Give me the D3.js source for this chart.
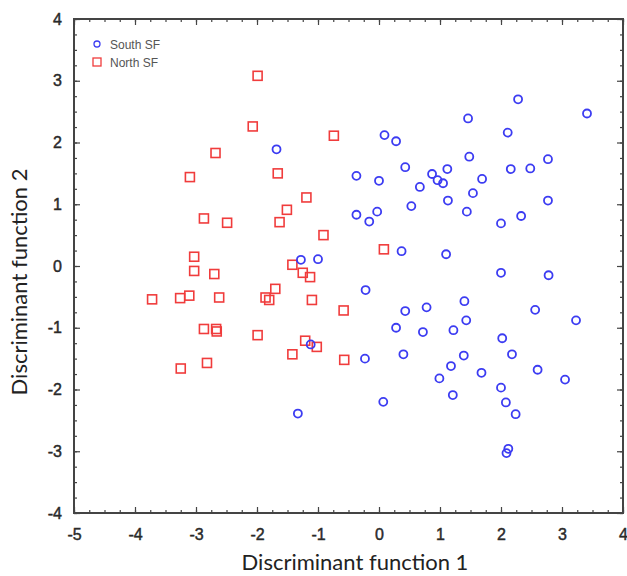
<!DOCTYPE html>
<html>
<head>
<meta charset="utf-8">
<script src="https://cdn.jsdelivr.net/npm/d3@7"></script>
<style>
  body { margin: 0; background: #fff; }
  svg { display: block; }
</style>
</head>
<body>
<div id="chart"></div>
<script>
// South SF group (blue circles): [function 1, function 2]
var southSF = [
  [-1.68, 1.89], [-1.28, 0.10], [-1.00, 0.11], [-1.12, -1.27], [-1.33, -2.39],
  [0.09, 2.12], [0.28, 2.02], [-0.37, 1.46], [0.00, 1.38], [0.43, 1.60],
  [0.67, 1.28], [0.87, 1.49], [0.96, 1.39], [1.05, 1.34], [1.12, 1.57],
  [1.13, 1.06], [0.53, 0.97], [-0.37, 0.83], [-0.16, 0.72], [-0.03, 0.88],
  [0.37, 0.24], [1.10, 0.19], [1.46, 2.39], [1.48, 1.77], [1.44, 0.88],
  [2.28, 2.70], [3.41, 2.47], [2.11, 2.16], [2.77, 1.73], [2.16, 1.57],
  [2.48, 1.58], [1.69, 1.41], [1.54, 1.18], [2.00, 0.69], [2.33, 0.81],
  [2.77, 1.06], [-0.22, -0.39], [0.43, -0.73], [0.78, -0.67], [1.40, -0.57],
  [1.43, -0.88], [0.28, -1.00], [0.72, -1.07], [1.22, -1.04], [-0.23, -1.50],
  [0.40, -1.43], [1.39, -1.45], [1.18, -1.62], [0.99, -1.82], [1.21, -2.09],
  [0.07, -2.20], [2.00, -0.11], [2.78, -0.15], [2.56, -0.71], [3.23, -0.88],
  [2.02, -1.17], [2.18, -1.43], [1.68, -1.73], [2.60, -1.68], [3.05, -1.84],
  [2.00, -1.97], [2.08, -2.21], [2.24, -2.40], [2.12, -2.96], [2.09, -3.03]
];

// North SF group (red squares)
var northSF = [
  [-1.99, 3.08], [-2.07, 2.26], [-2.68, 1.83], [-3.10, 1.44], [-1.66, 1.50],
  [-1.19, 1.11], [-1.51, 0.91], [-2.87, 0.77], [-2.49, 0.70], [-1.63, 0.71],
  [-3.03, 0.15], [-3.03, -0.08], [-2.70, -0.13], [-1.42, 0.02], [-1.25, -0.11],
  [-1.13, -0.18], [-3.72, -0.54], [-3.26, -0.52], [-3.11, -0.48], [-2.62, -0.51],
  [-1.86, -0.51], [-1.80, -0.55], [-1.70, -0.37], [-1.10, -0.55], [-2.87, -1.02],
  [-2.67, -1.02], [-2.66, -1.06], [-1.99, -1.12], [-1.21, -1.21], [-1.02, -1.31],
  [-1.42, -1.43], [-2.82, -1.57], [-3.25, -1.66], [-0.74, 2.11], [-0.91, 0.50],
  [0.08, 0.27], [-0.58, -0.72], [-0.57, -1.52]
];

var xTicks = [-5, -4, -3, -2, -1, 0, 1, 2, 3, 4];
var yTicks = [-4, -3, -2, -1, 0, 1, 2, 3, 4];
var legendItems = ["South SF", "North SF"];

var width = 627, height = 576;
var pLeft = 74, pRight = 623, pTop = 19, pBottom = 513;
var blue = "#3c3cf2", red = "#f03c3c";

var x = d3.scaleLinear().domain([-5, 4]).range([pLeft, pRight]);
var y = d3.scaleLinear().domain([-4, 4]).range([pBottom, pTop]);

var xMinor = d3.range(-5, 4.001, 0.25);
var yMinor = d3.range(-4, 4.001, 0.25);

var svg = d3.select("#chart").append("svg")
  .attr("width", width)
  .attr("height", height);

// ticks point inward on all four sides
function addAxis(axis, tx, ty, labels) {
  var g = svg.append("g")
    .attr("transform", "translate(" + tx + "," + ty + ")")
    .call(axis);
  g.select(".domain").remove();
  g.selectAll(".tick line").attr("stroke", "#444").attr("stroke-width", 1.2);
  if (!labels) g.selectAll(".tick text").remove();
  return g;
}

addAxis(d3.axisBottom(x).tickValues(xMinor).tickSize(-3), 0, pBottom, false);
addAxis(d3.axisTop(x).tickValues(xMinor).tickSize(-3), 0, pTop, false);
addAxis(d3.axisLeft(y).tickValues(yMinor).tickSize(-3), pLeft, 0, false);
addAxis(d3.axisRight(y).tickValues(yMinor).tickSize(-3), pRight, 0, false);

var fmt = d => String(d);
var xAx = addAxis(d3.axisBottom(x).tickValues(xTicks).tickFormat(fmt).tickSize(-6).tickPadding(16), 0, pBottom, true);
addAxis(d3.axisTop(x).tickValues(xTicks).tickSize(-6), 0, pTop, false);
var yAx = addAxis(d3.axisLeft(y).tickValues(yTicks).tickFormat(fmt).tickSize(-6).tickPadding(12), pLeft, 0, true);
addAxis(d3.axisRight(y).tickValues(yTicks).tickSize(-6), pRight, 0, false);

[xAx, yAx].forEach(function (g) {
  g.selectAll(".tick text")
    .attr("font-family", "Liberation Sans, Arial, sans-serif")
    .attr("font-size", 16)
    .attr("fill", "#2a2a2a")
    .attr("stroke", "#2a2a2a")
    .attr("stroke-width", 0.45);
});

// frame
svg.append("rect")
  .attr("x", pLeft).attr("y", pTop)
  .attr("width", pRight - pLeft).attr("height", pBottom - pTop)
  .attr("fill", "none")
  .attr("stroke", "#444")
  .attr("stroke-width", 2);

// points
svg.append("g").selectAll("rect")
  .data(northSF)
  .enter().append("rect")
  .attr("x", d => x(d[0]) - 4.5)
  .attr("y", d => y(d[1]) - 4.5)
  .attr("width", 9).attr("height", 9)
  .attr("fill", "none")
  .attr("stroke", red)
  .attr("stroke-width", 1.6);

svg.append("g").selectAll("circle")
  .data(southSF)
  .enter().append("circle")
  .attr("cx", d => x(d[0]))
  .attr("cy", d => y(d[1]))
  .attr("r", 4)
  .attr("fill", "none")
  .attr("stroke", blue)
  .attr("stroke-width", 1.8);

// legend
var legend = svg.append("g").attr("transform", "translate(97,44)");
legend.append("circle")
  .attr("cx", 0).attr("cy", 0).attr("r", 3)
  .attr("fill", "none").attr("stroke", blue).attr("stroke-width", 1.3);
legend.append("rect")
  .attr("x", -4).attr("y", 14).attr("width", 8).attr("height", 8)
  .attr("fill", "none").attr("stroke", red).attr("stroke-width", 1.3);
legend.selectAll("text")
  .data(legendItems)
  .enter().append("text")
  .attr("x", 13)
  .attr("y", (d, i) => 4.5 + i * 18)
  .attr("font-family", "Liberation Sans, Arial, sans-serif")
  .attr("font-size", 12)
  .attr("fill", "#555")
  .text(d => d);

// axis titles
svg.append("text")
  .attr("x", 355).attr("y", 570)
  .attr("text-anchor", "middle")
  .attr("font-family", "Lato, sans-serif")
  .attr("font-size", 22)
  .attr("fill", "#222")
  .text("Discriminant function 1");

svg.append("text")
  .attr("transform", "translate(27,282) rotate(-90)")
  .attr("text-anchor", "middle")
  .attr("font-family", "Lato, sans-serif")
  .attr("font-size", 22)
  .attr("fill", "#222")
  .text("Discriminant function 2");
</script>
</body>
</html>
